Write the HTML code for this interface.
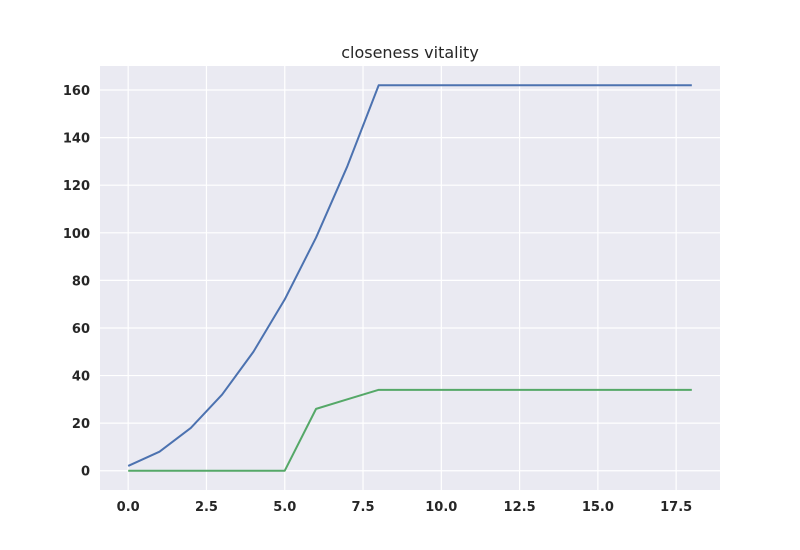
<!DOCTYPE html>
<html><head><meta charset="utf-8"><style>
body{margin:0;background:#fff;}
svg{display:block;font-family:"DejaVu Sans","Liberation Sans",sans-serif;}
</style></head><body>
<svg id="chart" width="800" height="550">
<rect x="100" y="66" width="620" height="424" fill="#eaeaf2"/>
<g id="grid"></g><g id="ticks"></g><g id="lines"></g>
<text x="410" y="58" text-anchor="middle" font-size="16" fill="#262626">closeness vitality</text>
</svg>
<script>
const xValues=[0,1,2,3,4,5,6,7,8,9,10,11,12,13,14,15,16,17,18];
const blueSeries=[2,8,18,32,50,72,98,128,162,162,162,162,162,162,162,162,162,162,162];
const greenSeries=[0,0,0,0,0,0,26,30,34,34,34,34,34,34,34,34,34,34,34];
const xTicks=[0,2.5,5,7.5,10,12.5,15,17.5];
const xTickLabels=["0.0","2.5","5.0","7.5","10.0","12.5","15.0","17.5"];
const yTicks=[0,20,40,60,80,100,120,140,160];
const yTickLabels=["0","20","40","60","80","100","120","140","160"];
const L=100,R=720,T=66,B=490,x0=-0.9,x1=18.9,y0=-8.1,y1=170.1;
const sx=v=>L+(v-x0)/(x1-x0)*(R-L), sy=v=>B-(v-y0)/(y1-y0)*(B-T);
const NS="http://www.w3.org/2000/svg";
function mk(t,a,p){const e=document.createElementNS(NS,t);for(const k in a)e.setAttribute(k,a[k]);p.appendChild(e);return e;}
const g=document.getElementById('grid'),tk=document.getElementById('ticks'),ln=document.getElementById('lines');
xTicks.forEach((v,i)=>{
 const l=mk('line',{x1:sx(v),x2:sx(v),y1:T,y2:B,stroke:'#fff','stroke-width':1.2},g);
 
 
 const t=mk('text',{x:sx(v),y:B+21,'text-anchor':'middle','font-size':13,'font-weight':'bold',fill:'#262626'},tk);
 t.textContent=xTickLabels[i];
 
 
});
yTicks.forEach((v,i)=>{
 const l=mk('line',{x1:L,x2:R,y1:sy(v),y2:sy(v),stroke:'#fff','stroke-width':1.2},g);
 
 
 const t=mk('text',{x:L-10,y:sy(v)+5,'text-anchor':'end','font-size':13,'font-weight':'bold',fill:'#262626'},tk);
 t.textContent=yTickLabels[i];
 
 
});
function line(vals,color,name){
 const p=mk('polyline',{points:vals.map((v,i)=>sx(xValues[i])+','+sy(v)).join(' '),fill:'none',stroke:color,'stroke-width':2,'stroke-linejoin':'round'},ln);
 
 
}
line(blueSeries,'#4c72b0','blue-series-line');
line(greenSeries,'#55a868','green-series-line');
</script>
</body></html>
